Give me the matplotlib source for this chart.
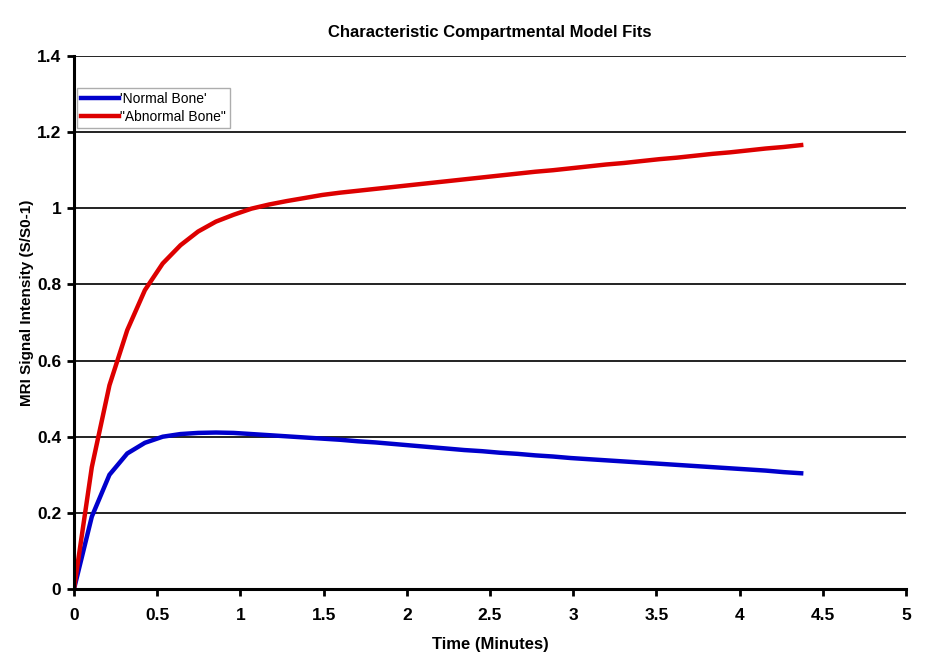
import matplotlib
matplotlib.use("Agg")
import matplotlib.pyplot as plt

plt.rcParams['font.family'] = ['Liberation Sans', 'DejaVu Sans']

time_min = [0.000, 0.107, 0.213, 0.320, 0.426, 0.533, 0.640, 0.746, 0.853, 0.959,
            1.066, 1.173, 1.279, 1.386, 1.492, 1.599, 1.706, 1.812, 1.919, 2.025,
            2.132, 2.239, 2.345, 2.452, 2.558, 2.665, 2.772, 2.878, 2.985, 3.091,
            3.198, 3.305, 3.411, 3.518, 3.624, 3.731, 3.838, 3.944, 4.051, 4.157,
            4.264, 4.370]

normal_bone = [0.000, 0.190, 0.300, 0.356, 0.384, 0.400, 0.407, 0.410, 0.411, 0.410,
               0.407, 0.404, 0.401, 0.398, 0.395, 0.392, 0.388, 0.385, 0.381, 0.377,
               0.373, 0.369, 0.365, 0.362, 0.358, 0.355, 0.351, 0.348, 0.344, 0.341,
               0.338, 0.335, 0.332, 0.329, 0.326, 0.323, 0.320, 0.317, 0.314, 0.311,
               0.307, 0.304]

abnormal_bone = [0.000, 0.320, 0.535, 0.680, 0.785, 0.855, 0.903, 0.939, 0.965, 0.983,
                 0.999, 1.010, 1.019, 1.027, 1.035, 1.041, 1.046, 1.051, 1.056, 1.061,
                 1.066, 1.071, 1.076, 1.081, 1.086, 1.091, 1.096, 1.100, 1.105, 1.110,
                 1.115, 1.119, 1.124, 1.129, 1.133, 1.138, 1.143, 1.147, 1.152, 1.157,
                 1.161, 1.166]

x_ticks = [0, 0.5, 1, 1.5, 2, 2.5, 3, 3.5, 4, 4.5, 5]
x_tick_labels = ['0', '0.5', '1', '1.5', '2', '2.5', '3', '3.5', '4', '4.5', '5']
y_ticks = [0, 0.2, 0.4, 0.6, 0.8, 1.0, 1.2, 1.4]
y_tick_labels = ['0', '0.2', '0.4', '0.6', '0.8', '1', '1.2', '1.4']

fig = plt.figure(figsize=(9.29, 6.62), dpi=100)
ax = fig.add_axes([74/929, 1-589/662, (906-74)/929, (589-56)/662])

ax.plot(time_min, normal_bone, color='#0000cc', lw=3.2, label="'Normal Bone'",
        solid_joinstyle='miter', zorder=3)
ax.plot(time_min, abnormal_bone, color='#dd0000', lw=3.2, label='"Abnormal Bone"',
        solid_joinstyle='miter', zorder=3)

ax.set_xlim(0, 5)
ax.set_ylim(0, 1.4)
ax.set_xticks(x_ticks)
ax.set_xticklabels(x_tick_labels, fontsize=12.5, fontweight='bold')
ax.set_yticks(y_ticks)
ax.set_yticklabels(y_tick_labels, fontsize=12.5, fontweight='bold')
ax.tick_params(axis='both', direction='out', length=5, width=2, color='black')
ax.tick_params(axis='x', pad=9)
ax.tick_params(axis='y', pad=4)

ax.grid(axis='y', color='#222222', lw=1.4)
ax.set_axisbelow(True)
for s in ['top', 'right']:
    ax.spines[s].set_visible(False)
for s in ['left', 'bottom']:
    ax.spines[s].set_linewidth(2.2)
    ax.spines[s].set_color('black')
    ax.spines[s].set_zorder(4)

ax.set_title('Characteristic Compartmental Model Fits', fontsize=12, fontweight='bold', pad=14)
ax.set_xlabel('Time (Minutes)', fontsize=12, fontweight='bold', labelpad=10)
ax.set_ylabel('MRI Signal Intensity (S/S0-1)', fontsize=11, fontweight='bold',
              va='center', ha='center')
ax.yaxis.set_label_coords(-0.0565, 0.537)

leg = ax.legend(loc='upper left', bbox_to_anchor=(0.004, 0.94), fontsize=10,
                frameon=True, fancybox=False, edgecolor='#999999', handlelength=2.7,
                borderpad=0.3, labelspacing=0.3, handletextpad=0.1, borderaxespad=0)
leg.get_frame().set_linewidth(1.0)

fig.savefig('out.png', dpi=100)
